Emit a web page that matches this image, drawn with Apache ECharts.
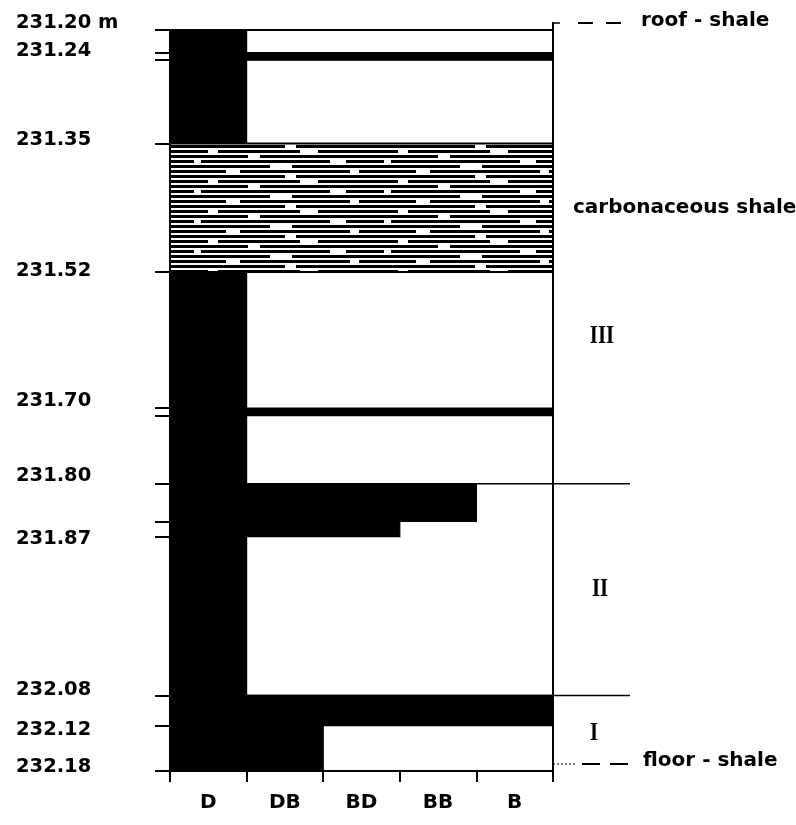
<!DOCTYPE html>
<html>
<head>
<meta charset="utf-8">
<script src="https://cdn.jsdelivr.net/npm/echarts@6/dist/echarts.min.js"></script>
<style>html,body{margin:0;padding:0;background:#fff}#c{width:796px;height:825px}</style>
</head>
<body>
<div id="c"></div>
<script>
// ---- data ----
const lithotypes = ['D', 'DB', 'BD', 'BB', 'B'];
const layerTop  = [231.20, 231.23, 231.24, 231.35, 231.52, 231.70, 231.71, 231.80, 231.85, 231.87, 232.08, 232.12];
const layerBase = [231.23, 231.24, 231.35, 231.52, 231.70, 231.71, 231.80, 231.85, 231.87, 232.08, 232.12, 232.18];
const layerType = ['D', 'B', 'D', 'carbonaceous shale', 'D', 'B', 'D', 'BB', 'BD', 'D', 'B', 'DB'];
const depthTicks  = [231.20, 231.23, 231.24, 231.35, 231.52, 231.70, 231.71, 231.80, 231.85, 231.87, 232.08, 232.12, 232.18];
const depthLabels = [231.20, 231.24, 231.35, 231.52, 231.70, 231.80, 231.87, 232.08, 232.12, 232.18];
const zoneNames = ['III', 'II', 'I'];
const zoneLabelDepth = [231.605, 231.94, 232.13];
const zoneBounds = [231.80, 232.08];
const roofText = 'roof - shale';
const floorText = 'floor - shale';
const shaleName = 'carbonaceous shale';

// ---- styles (not data) ----
const labelNudge = [-7, -9, -3, -1, -7, -8, 2, -5, 4, -4];
const zoneNudgeX = [2, 0, -6];
const FONT = 'DejaVu Sans';

function extentOf(t) {
  const i = lithotypes.indexOf(t);
  return i >= 0 ? i + 1 : lithotypes.length;
}

// hatch pattern for carbonaceous shale
const pat = document.createElement('canvas');
pat.width = 190; pat.height = 30;
(function () {
  const g = pat.getContext('2d');
  g.fillStyle = '#fff'; g.fillRect(0, 0, 190, 30);
  const gaps = [[[18, 10], [110, 18]], [[58, 12]], [[4, 7], [140, 16]], [[80, 22]], [[36, 14], [160, 9]], [[95, 11]]];
  for (let r = 0; r < 6; r++) {
    const y = r * 5;
    g.fillStyle = '#000';
    g.fillRect(0, y, 190, 3);
    g.fillStyle = '#fff';
    gaps[r].forEach(([x, w]) => g.fillRect(x, y, w, 3));
  }
})();

const rich = {};
depthLabels.forEach((d, i) => {
  const s = labelNudge[i];
  rich['n' + i] = {
    fontFamily: FONT, fontSize: 19.5, fontWeight: 'bold', color: '#000',
    padding: s < 0 ? [0, 0, -2 * s, 0] : [2 * s, 0, 0, 0]
  };
});

const layerData = layerTop.map((t, i) => [extentOf(layerType[i]), t, layerBase[i], i]);

const chart = echarts.init(document.getElementById('c'), null, { renderer: 'canvas', width: 796, height: 825 });

const option = {
  animation: false,
  backgroundColor: '#fff',
  grid: { left: 170, right: 243, top: 30, bottom: 54, show: true, borderColor: '#000', borderWidth: 2, backgroundColor: 'transparent' },
  xAxis: [
    {
      type: 'value', min: 0, max: 5, interval: 1, position: 'bottom',
      axisLine: { show: true, lineStyle: { color: '#000', width: 2 } },
      axisTick: { show: true, length: 11, lineStyle: { color: '#000', width: 2 } },
      axisLabel: { show: false }, splitLine: { show: false }
    },
    {
      type: 'category', data: lithotypes, position: 'bottom', boundaryGap: true,
      axisLine: { show: false }, axisTick: { show: false }, splitLine: { show: false },
      axisLabel: { fontFamily: FONT, fontSize: 20, fontWeight: 'bold', color: '#000', margin: 22 }
    }
  ],
  yAxis: {
    type: 'value', inverse: true, min: 231.20, max: 232.18,
    axisLine: { show: true, lineStyle: { color: '#000', width: 2 } },
    axisTick: { show: true, length: 15, customValues: depthTicks, lineStyle: { color: '#000', width: 2 } },
    splitLine: { show: false },
    axisLabel: {
      customValues: depthLabels, align: 'left', margin: 154, color: '#000',
      fontFamily: FONT, fontSize: 19.5, fontWeight: 'bold',
      formatter: function (v) {
        let idx = depthLabels.findIndex(d => Math.abs(d - v) < 1e-6);
        if (idx < 0) idx = 0;
        const txt = depthLabels[idx].toFixed(2) + (idx === 0 ? ' m' : '');
        return '{n' + idx + '|' + txt + '}';
      },
      rich: rich
    }
  },
  series: [{
    type: 'custom',
    xAxisIndex: 0, yAxisIndex: 0,
    clip: false,
    data: layerData,
    renderItem: function (params, api) {
      const ext = api.value(0), top = api.value(1), base = api.value(2), idx = api.value(3);
      const p0 = api.coord([0, top]);
      const p1 = api.coord([ext, base]);
      const isShale = layerType[idx] === shaleName;
      return {
        type: 'rect',
        z2: isShale ? 1 : 2,
        shape: { x: p0[0], y: p0[1], width: p1[0] - p0[0], height: p1[1] - p0[1] },
        style: isShale
          ? { fill: { image: pat, repeat: 'repeat' }, stroke: '#000', lineWidth: 2 }
          : { fill: '#000', stroke: '#000', lineWidth: 1.2 }
      };
    }
  }]
};
chart.setOption(option);

// annotations placed through the chart's own coordinate conversion
const px = (x, y) => chart.convertToPixel({ xAxisIndex: 0, yAxisIndex: 0 }, [x, y]);
const xR = px(lithotypes.length, 0)[0];
const x0 = px(0, 0)[0];
const yRoof = px(0, layerTop[0])[1];
const yFloor = px(0, layerBase[layerBase.length - 1])[1];
const shaleIdx = layerType.indexOf(shaleName);
const yShale = px(0, (layerTop[shaleIdx] + layerBase[shaleIdx]) / 2)[1];
const txtStyle = (t, x, y) => ({
  type: 'text', x: x, y: y,
  style: { text: t, fontFamily: FONT, fontSize: 20, fontWeight: 'bold', fill: '#000', textAlign: 'left', textVerticalAlign: 'middle' }
});

const graphic = [];
graphic.push({ type: 'line', shape: { x1: xR, y1: yRoof - 8, x2: xR, y2: yFloor + 7 }, style: { stroke: '#000', lineWidth: 2 } });
zoneBounds.forEach(d => {
  const y = px(0, d)[1];
  graphic.push({ type: 'line', shape: { x1: x0, y1: y, x2: xR + 77, y2: y }, style: { stroke: '#000', lineWidth: 1.5 } });
});
graphic.push({ type: 'line', shape: { x1: xR, y1: yRoof - 7, x2: xR + 7, y2: yRoof - 7 }, style: { stroke: '#000', lineWidth: 1.5 } });
graphic.push({ type: 'line', shape: { x1: xR + 25, y1: yRoof - 7, x2: xR + 69, y2: yRoof - 7 }, style: { stroke: '#000', lineWidth: 2, lineDash: [15, 13] } });
graphic.push(txtStyle(roofText, xR + 88, yRoof - 9));
graphic.push({ type: 'line', shape: { x1: xR, y1: yFloor - 7, x2: xR + 22, y2: yFloor - 7 }, style: { stroke: '#000', lineWidth: 1, lineDash: [2, 2] } });
graphic.push({ type: 'line', shape: { x1: xR + 29, y1: yFloor - 7, x2: xR + 77, y2: yFloor - 7 }, style: { stroke: '#000', lineWidth: 2, lineDash: [18, 10] } });
graphic.push(txtStyle(floorText, xR + 90, yFloor - 10));
graphic.push(txtStyle(shaleName, xR + 20, yShale));
zoneNames.forEach((z, i) => {
  const y = px(0, zoneLabelDepth[i])[1];
  graphic.push({
    type: 'text', x: xR + 47 + zoneNudgeX[i], y: y, scaleX: 0.8,
    style: { text: z, fontFamily: 'Liberation Serif', fontSize: 26, fontWeight: 'bold', fill: '#000', textAlign: 'center', textVerticalAlign: 'middle' }
  });
});
chart.setOption({ graphic: graphic });
</script>
</body>
</html>
